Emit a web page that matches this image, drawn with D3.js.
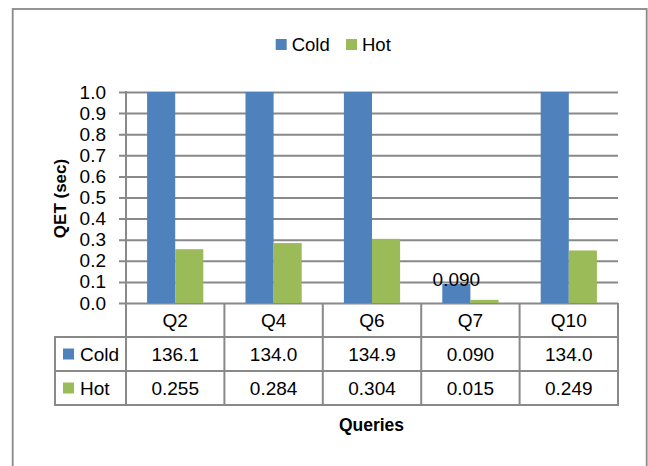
<!DOCTYPE html>
<html>
<head>
<meta charset="utf-8">
<script src="https://cdn.jsdelivr.net/npm/d3@7"></script>
<style>
  html, body { margin: 0; padding: 0; background: #fff; }
  svg { display: block; font-family: "Liberation Sans", Arial, sans-serif; }
</style>
</head>
<body>
<svg id="chart" width="648" height="466"></svg>
<script>
// ---- data ----
const categories = ["Q2", "Q4", "Q6", "Q7", "Q10"];
const seriesNames = ["Cold", "Hot"];
const coldValues = [136.1, 134.0, 134.9, 0.090, 134.0];
const hotValues = [0.255, 0.284, 0.304, 0.015, 0.249];
const yTicks = [0.0, 0.1, 0.2, 0.3, 0.4, 0.5, 0.6, 0.7, 0.8, 0.9, 1.0];
const labeledCategories = ["Q7"]; // Cold bars carrying a data label
const colors = { Cold: "#4F81BD", Hot: "#9BBB59" };

const seriesValues = { Cold: coldValues, Hot: hotValues };
const fmt = v => v >= 1 ? d3.format(".1f")(v) : d3.format(".3f")(v);

// ---- layout ----
const svg = d3.select("#chart");
const gridColor = "#898989";
const plotLeft = 126, plotRight = 618, plotTop = 92, plotBottom = 303;
const rowH = 34;
const tableLeft = 55;

// outer frame
svg.append("rect")
  .attr("x", 12.7).attr("y", 9).attr("width", 634).attr("height", 480)
  .attr("fill", "none").attr("stroke", gridColor).attr("stroke-width", 1.8);

const x = d3.scaleBand().domain(categories).range([plotLeft, plotRight]).paddingInner(0).paddingOuter(0);
const xs = d3.scaleBand().domain(seriesNames).range([0, x.bandwidth()]).paddingInner(0).paddingOuter(0.75);
const y = d3.scaleLinear().domain([0, 1]).range([plotBottom, plotTop]).clamp(true);

// gridlines + y labels via axis
const yAxis = d3.axisLeft(y).tickValues(yTicks).tickFormat(d3.format(".1f"))
  .tickSize(-(plotRight - plotLeft)).tickPadding(20);
const gy = svg.append("g").attr("transform", `translate(${plotLeft},0)`).call(yAxis);
gy.select(".domain").remove();
gy.selectAll(".tick line")
  .attr("x1", -7)
  .attr("stroke", gridColor).attr("stroke-width", 2);
gy.selectAll(".tick text")
  .attr("fill", "#000").style("font-size", "19px")
  .style("font-family", "'Liberation Sans', Arial, sans-serif");

// bars
const barData = [];
categories.forEach((c, i) => seriesNames.forEach(s => barData.push({ c, s, v: seriesValues[s][i] })));
svg.append("g").selectAll("rect").data(barData).join("rect")
  .attr("x", d => x(d.c) + xs(d.s))
  .attr("y", d => y(d.v))
  .attr("width", xs.bandwidth())
  .attr("height", d => y(0) - y(d.v))
  .attr("fill", d => colors[d.s]);

// y-axis line
svg.append("line")
  .attr("x1", plotLeft).attr("x2", plotLeft).attr("y1", plotTop - 1).attr("y2", plotBottom + 3 * rowH)
  .attr("stroke", gridColor).attr("stroke-width", 2);

// data labels
svg.append("g").selectAll("text")
  .data(barData.filter(d => d.s === "Cold" && labeledCategories.includes(d.c)))
  .join("text")
  .attr("x", d => x(d.c) + xs(d.s) + xs.bandwidth() / 2)
  .attr("y", d => y(d.v) + 1.5)
  .attr("text-anchor", "middle")
  .style("font-size", "19px")
  .text(d => fmt(d.v));

// ---- data table ----
const table = svg.append("g");
const tableBottom = plotBottom + 3 * rowH;
// vertical lines at category boundaries
const bounds = categories.map(c => x(c)).concat([plotRight]);
table.selectAll("line.v").data(bounds).join("line")
  .attr("x1", d => d).attr("x2", d => d)
  .attr("y1", plotBottom).attr("y2", tableBottom)
  .attr("stroke", gridColor).attr("stroke-width", 2);
// left legend column line
table.append("line")
  .attr("x1", tableLeft).attr("x2", tableLeft)
  .attr("y1", plotBottom + rowH).attr("y2", tableBottom)
  .attr("stroke", gridColor).attr("stroke-width", 2);
// horizontal lines
[1, 2, 3].forEach(r => {
  table.append("line")
    .attr("x1", tableLeft - 1).attr("x2", plotRight + 1)
    .attr("y1", plotBottom + r * rowH).attr("y2", plotBottom + r * rowH)
    .attr("stroke", gridColor).attr("stroke-width", 2);
});
// header row
table.selectAll("text.cat").data(categories).join("text")
  .attr("x", d => x(d) + x.bandwidth() / 2)
  .attr("y", plotBottom + rowH / 2)
  .attr("dy", "0.36em")
  .attr("text-anchor", "middle")
  .style("font-size", "19px")
  .text(d => d);
// series rows
seriesNames.forEach((s, r) => {
  const cy = plotBottom + (r + 1) * rowH + rowH / 2;
  table.append("rect")
    .attr("x", 63).attr("y", cy - 5.5).attr("width", 11).attr("height", 11)
    .attr("fill", colors[s]);
  table.append("text")
    .attr("x", 80).attr("y", cy).attr("dy", "0.36em")
    .style("font-size", "19px").text(s);
  table.selectAll(null).data(categories).join("text")
    .attr("x", d => x(d) + x.bandwidth() / 2)
    .attr("y", cy).attr("dy", "0.36em")
    .attr("text-anchor", "middle")
    .style("font-size", "19px")
    .text((d, i) => fmt(seriesValues[s][i]));
});

// ---- legend ----
const legend = svg.append("g");
const legendItems = [{ s: "Cold", x: 275.7 }, { s: "Hot", x: 346 }];
legendItems.forEach(it => {
  legend.append("rect").attr("x", it.x).attr("y", 39).attr("width", 11).attr("height", 11).attr("fill", colors[it.s]);
  legend.append("text").attr("x", it.x + 16).attr("y", 44.5).attr("dy", "0.36em")
    .style("font-size", "18.5px").text(it.s);
});

// ---- axis titles ----
svg.append("text")
  .attr("transform", `translate(66,198.5) rotate(-90)`)
  .attr("text-anchor", "middle")
  .style("font-size", "17px").style("font-weight", "bold")
  .text("QET (sec)");
svg.append("text")
  .attr("x", 371.5).attr("y", 431)
  .attr("text-anchor", "middle")
  .style("font-size", "17.5px").style("font-weight", "bold")
  .text("Queries");
</script>
</body>
</html>
